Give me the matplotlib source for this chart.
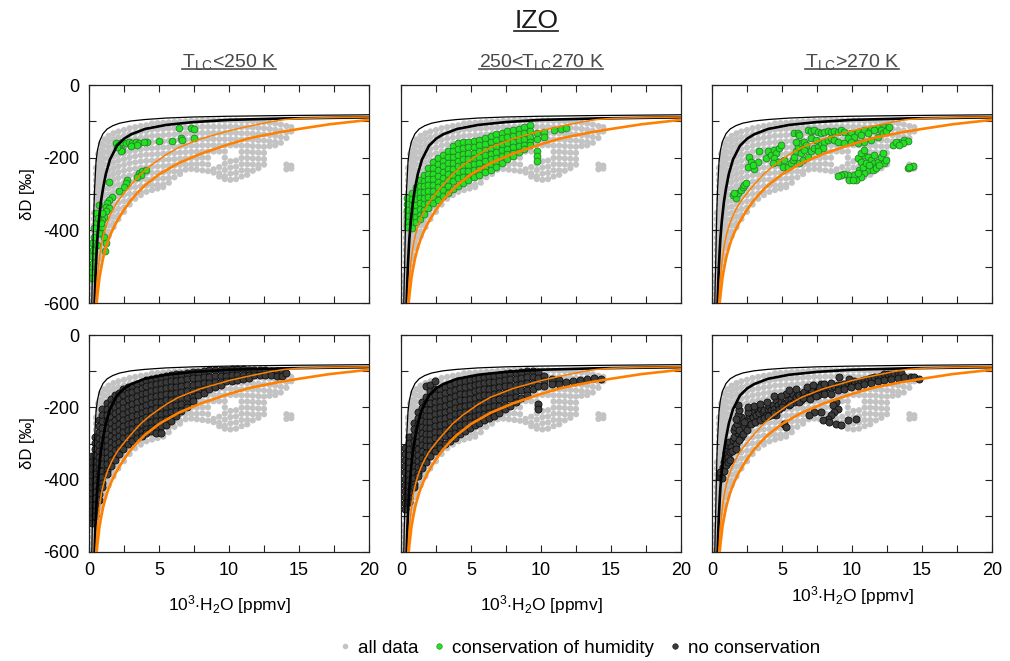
import numpy as np
import matplotlib
matplotlib.use("Agg")
import matplotlib.pyplot as plt
from matplotlib.lines import Line2D

plt.rcParams['font.family'] = ['Liberation Sans', 'DejaVu Sans']
plt.rcParams['mathtext.fontset'] = 'custom'
plt.rcParams['mathtext.rm'] = 'Liberation Sans'
plt.rcParams['mathtext.it'] = 'Liberation Sans:italic'
plt.rcParams['mathtext.bf'] = 'Liberation Sans:bold'

# model curves (x = 10^3 ppmv, y = dD permil)
thin_black_x = [0.2, 0.23, 0.26, 0.3, 0.35, 0.4, 0.5, 0.6, 0.75, 1.0, 1.3, 1.7, 2.2, 3, 4, 5.5, 7.5, 10, 14, 20]
thin_black_y = [-600, -540, -500, -420, -340, -285, -212, -180, -155, -134, -121, -112, -105, -99, -95, -91, -88, -86, -84, -82]
thick_black_x = [0.4, 0.43, 0.46, 0.5, 0.55, 0.6, 0.7, 0.85, 1.0, 1.2, 1.5, 2.0, 2.5, 3.0, 4.0, 5.5, 7.5, 10, 14, 20]
thick_black_y = [-600, -565, -530, -492, -455, -422, -375, -322, -285, -245, -205, -167, -148, -136, -121, -110, -102, -96, -92, -89]
orange_hi_x = [0.48, 0.52, 0.56, 0.62, 0.7, 0.8, 0.92, 1.05, 1.2, 1.4, 1.68, 2.0, 2.5, 3.0, 3.7, 4.4, 5.5,
               6.4, 8.0, 9.1, 10, 11, 12, 13, 14, 15, 17, 20]
orange_hi_y = [-600, -575, -550, -522, -492, -460, -432, -410, -390, -368, -345, -323, -298, -275, -245, -222,
               -192, -172, -148, -136, -126, -117, -109, -101, -95, -92, -90, -88]
orange_lo_x = [0.55, 0.6, 0.66, 0.75, 0.85, 1.0, 1.2, 1.4, 1.6, 1.9, 2.2, 2.6, 3.0, 3.5, 4.0, 5.0, 6.4, 8.0,
               10, 11.5, 13.6, 15, 17.2, 20]
orange_lo_y = [-600, -580, -560, -530, -508, -478, -448, -425, -406, -382, -362, -338, -317, -295, -276, -246,
               -215, -189, -163, -146, -130, -121, -108, -96]

# all data (grey cloud), given column by column
gray_cols = [0.25, 0.35, 0.5, 0.65, 0.85, 1.1, 1.4, 1.75, 2.1, 2.5, 2.9, 3.3, 3.7, 4.1, 4.5, 4.9, 5.3, 5.7,
             6.1, 6.5, 6.9, 7.3, 7.7, 8.1, 8.5, 8.9, 9.3, 9.7, 10.1, 10.5, 10.9, 11.3, 11.7, 12.1, 12.5,
             12.9, 13.3, 13.7, 14.1, 14.45]
gray_rows = [
    [-525, -542, -559, -576, -594],
    [-352, -369, -386, -403, -420, -437, -454, -471, -488, -505, -522, -539, -556, -573, -590],
    [-228, -245, -262, -279, -296, -313, -330, -347, -364, -381, -398, -415, -432, -449, -466, -483, -500, -517, -534, -551, -565],
    [-190, -207, -224, -241, -258, -275, -292, -309, -326, -343, -360, -377, -394, -411, -428, -445, -462, -479, -496, -513, -522],
    [-162, -179, -196, -213, -230, -247, -264, -281, -298, -315, -332, -349, -366, -383, -400, -417, -434, -451, -468, -480],
    [-150, -167, -184, -201, -218, -235, -252, -269, -286, -303, -320, -337, -354, -371, -388, -405, -422, -438, -448],
    [-140, -155, -171, -187, -203, -219, -235, -251, -267, -284, -301, -318, -335, -352, -369, -386, -403, -416],
    [-133, -149, -165, -181, -197, -213, -229, -245, -261, -278, -295, -312, -329, -346, -363, -380, -391],
    [-128, -144, -160, -176, -192, -208, -224, -240, -256, -273, -290, -307, -324, -341, -358, -369],
    [-124, -140, -156, -172, -188, -204, -220, -236, -252, -269, -286, -303, -320, -337, -349],
    [-119, -135, -151, -167, -183, -199, -215, -232, -249, -266, -283, -300, -317, -329],
    [-116, -132, -148, -164, -180, -196, -213, -230, -247, -264, -281, -298, -313],
    [-113, -129, -145, -161, -177, -193, -210, -227, -244, -261, -278, -295, -303],
    [-111, -127, -143, -159, -175, -192, -209, -226, -243, -260, -277, -294],
    [-106, -123, -140, -157, -174, -191, -208, -225, -242, -259, -276, -289],
    [-105, -122, -139, -156, -173, -190, -207, -224, -241, -258, -275, -285],
    [-104, -121, -138, -155, -172, -189, -206, -223, -240, -257, -274, -281],
    [-103, -120, -137, -154, -171, -188, -205, -222, -239, -256, -269],
    [-102, -119, -136, -153, -170, -187, -204, -221, -238, -254],
    [-101, -118, -135, -152, -169, -186, -203, -220, -237, -245],
    [-100, -117, -134, -151, -168, -185, -202, -219, -233],
    [-99, -116, -133, -150, -167, -184, -201, -218, -231],
    [-99, -116, -133, -150, -167, -184, -201, -218, -233],
    [-98, -115, -132, -149, -166, -183, -200, -217, -235],
    [-98, -115, -132, -149, -166, -183, -200, -219, -237],
    [-98, -115, -132, -149, -166, -183, -232, -241],
    [-98, -115, -132, -149, -166, -183, -226, -243, -252],
    [-98, -115, -132, -149, -166, -183, -200, -217, -234, -251, -259],
    [-98, -115, -132, -149, -166, -210, -227, -244, -261],
    [-98, -115, -132, -149, -166, -208, -225, -242, -259],
    [-99, -116, -133, -150, -167, -184, -201, -218, -235, -252],
    [-99, -116, -133, -150, -167, -184, -201, -218, -235, -247],
    [-100, -117, -134, -151, -168, -185, -202, -219, -236],
    [-101, -118, -135, -152, -169, -186, -203, -220, -229],
    [-102, -119, -136, -153, -170, -187, -204, -219],
    [-104, -121, -138, -155, -168],
    [-106, -123, -140, -157, -166],
    [-109, -126, -143, -159],
    [-113, -130, -146, -219, -232],
    [-116, -128, -222, -230],
]

# conservation of humidity, T_LC < 250 K
green1 = [(1.9, -160), (2.14, -165), (2.38, -156), (2.62, -160), (2.86, -156), (3.1, -160), (3.33, -156),
          (3.57, -160), (3.45, -165), (2.38, -179), (2.26, -183), (4.17, -158), (5.0, -154), (5.95, -153),
          (6.55, -147), (6.67, -151), (7.5, -147), (6.43, -119), (7.26, -119), (7.5, -122), (2.0, -172),
          (3.0, -168), (3.9, -158),
          (3.57, -243), (3.81, -238), (4.05, -234), (3.69, -248), (3.45, -252), (2.74, -261), (2.62, -270),
          (2.5, -280), (2.14, -293), (1.67, -307), (1.43, -266), (1.43, -316), (1.31, -326), (1.19, -335),
          (1.43, -339), (1.19, -348), (1.07, -362), (0.95, -371), (0.95, -390), (0.83, -408), (1.07, -417),
          (1.19, -435), (1.14, -458), (0.48, -353), (0.48, -380), (0.36, -394), (0.36, -417), (0.24, -435),
          (0.29, -454), (0.24, -472), (0.24, -500), (0.19, -514), (0.71, -408), (0.83, -380), (0.95, -353),
          (0.71, -330), (0.3, -490), (0.22, -530), (0.6, -440), (0.65, -365)]

# conservation of humidity, 250 < T_LC < 270 K (column by column)
green2_cols = [0.45, 0.75, 1.05, 1.35, 1.65, 1.95, 2.3, 2.65, 3.0, 3.35, 3.7, 4.05, 4.4, 4.8, 5.2, 5.6, 6.0,
               6.4, 6.8, 7.2, 7.6, 8.0, 8.4, 8.8, 9.2, 9.7, 10.2, 10.9, 11.4, 11.8]
green2_rows = [
    [-312, -328, -344, -360, -376, -392],
    [-298, -314, -330, -346, -362, -378, -394],
    [-282, -298, -314, -330, -346, -362, -378],
    [-262, -278, -294, -310, -326, -342, -358, -368],
    [-247, -263, -279, -295, -311, -327, -343, -354],
    [-228, -244, -260, -276, -292, -308, -324, -338],
    [-212, -228, -244, -260, -276, -292, -308, -326],
    [-202, -218, -234, -250, -266, -282, -298, -316],
    [-192, -208, -224, -240, -256, -272, -288, -306],
    [-182, -198, -214, -230, -246, -262, -278, -296],
    [-167, -183, -199, -215, -231, -247, -263, -286],
    [-160, -176, -192, -208, -224, -240, -256, -278],
    [-157, -173, -189, -205, -221, -237, -253, -270],
    [-156, -172, -188, -204, -220, -236, -252, -262],
    [-154, -170, -186, -202, -218, -234, -254],
    [-150, -166, -182, -198, -214, -230, -247],
    [-146, -162, -178, -194, -210, -226, -240],
    [-141, -157, -173, -189, -205, -221, -233],
    [-136, -152, -168, -184, -200, -216, -226],
    [-131, -147, -163, -179, -195, -214],
    [-127, -143, -159, -175, -191, -205],
    [-124, -140, -156, -172, -188, -196],
    [-120, -136, -152, -168, -184],
    [-116, -132, -148, -164, -175],
    [-111, -127, -143, -158, -166],
    [-132, -148, -182, -196, -210],
    [-128, -142],
    [-124],
    [-120],
    [-118],
]

# conservation of humidity, T_LC > 270 K
green3 = [(1.48, -302), (1.71, -312), (1.83, -298), (2.07, -289), (2.19, -280), (2.31, -275), (2.43, -270),
          (1.6, -298), (2.67, -197), (2.79, -211), (2.55, -225), (3.02, -232), (3.26, -211), (2.9, -220),
          (3.38, -183), (3.86, -202), (3.98, -183), (4.21, -193), (4.45, -179), (4.57, -188), (4.81, -174),
          (4.93, -165), (4.45, -202), (4.69, -211), (5.17, -206), (5.05, -225), (5.4, -226), (4.33, -215),
          (5.88, -133), (6.12, -131), (6.24, -138), (5.64, -215), (5.76, -206), (5.88, -197), (6.0, -183),
          (6.12, -170), (6.36, -160), (6.6, -156), (6.71, -165), (6.24, -215), (6.48, -206), (6.36, -188),
          (6.0, -156), (6.6, -179), (6.83, -124), (7.07, -126), (7.31, -124), (7.55, -128), (7.79, -133),
          (8.02, -128), (8.26, -126), (8.5, -128), (8.74, -126), (8.98, -128), (6.83, -197), (7.07, -183),
          (7.31, -174), (7.55, -170), (7.79, -160), (8.02, -156), (8.26, -151), (7.9, -174), (7.55, -183),
          (8.5, -147), (8.74, -151), (8.98, -156), (7.07, -147), (7.43, -151), (9.21, -124), (9.45, -128),
          (9.93, -133), (10.4, -128), (10.88, -124), (11.36, -122), (11.83, -119), (12.31, -115),
          (12.55, -119), (12.07, -124), (11.6, -124), (11.12, -131), (10.64, -138), (10.17, -142),
          (9.69, -147), (9.45, -160), (9.93, -156), (10.4, -160), (10.88, -156), (11.36, -151),
          (11.83, -142), (12.19, -133), (12.43, -126), (12.67, -115), (10.4, -202), (10.64, -211),
          (10.88, -193), (10.64, -188), (10.88, -179), (11.12, -197), (11.36, -206), (11.6, -215),
          (11.83, -211), (12.07, -197), (12.31, -215), (11.36, -225), (11.12, -234), (10.88, -243),
          (10.64, -252), (10.29, -261), (9.93, -257), (10.17, -248), (10.52, -234), (10.76, -225),
          (11.48, -234), (11.71, -229), (11.95, -220), (12.43, -206), (12.19, -188), (11.6, -193),
          (9.69, -248), (9.45, -245), (9.21, -249), (8.98, -250), (9.81, -261), (10.05, -261),
          (10.4, -243), (11.0, -215), (11.24, -220), (12.9, -165), (13.26, -160), (13.5, -156),
          (13.74, -151), (13.98, -154), (13.14, -156), (13.62, -160), (13.38, -165), (13.98, -229),
          (14.21, -225), (14.33, -223), (14.1, -226)]

# no conservation, T_LC < 250 K (column by column)
dark1_cols = [0.2, 0.45, 0.7, 0.95, 1.25, 1.55, 1.85, 2.15, 2.45, 2.75, 3.05, 3.4, 3.75, 4.1, 4.45, 4.8,
              5.15, 5.5, 5.85, 6.2, 6.6, 7.0, 7.4, 7.8, 8.2, 8.6, 9.0, 9.4, 9.8, 10.2, 10.6, 11.0, 11.4,
              11.8, 12.2, 12.6, 13.0, 13.4, 13.8, 14.1]
dark1_rows = [
    [-335, -352, -369, -386, -403, -420, -437, -454, -471, -488, -505, -520],
    [-282, -299, -316, -333, -350, -367, -384, -401, -418, -435, -452, -469, -486, -500],
    [-235, -252, -269, -286, -303, -320, -337, -354, -371, -388, -405, -422, -440, -455],
    [-205, -222, -239, -256, -273, -290, -307, -324, -341, -358, -375, -392, -410, -420],
    [-188, -205, -222, -239, -256, -273, -290, -307, -324, -341, -358, -375, -385],
    [-176, -193, -210, -227, -244, -261, -278, -295, -312, -329, -346, -362],
    [-166, -183, -200, -217, -234, -251, -268, -285, -302, -319, -336, -345],
    [-160, -177, -194, -211, -228, -245, -262, -279, -296, -313, -328],
    [-150, -167, -184, -201, -218, -235, -252, -269, -286, -303, -314],
    [-144, -161, -178, -195, -212, -229, -246, -263, -280, -300],
    [-140, -157, -174, -191, -208, -225, -242, -259, -276, -294],
    [-135, -152, -169, -186, -203, -220, -237, -254, -271, -285],
    [-130, -147, -164, -181, -198, -215, -232, -249, -266, -278],
    [-125, -142, -159, -176, -193, -210, -227, -244, -261, -270],
    [-121, -138, -155, -172, -189, -206, -223, -240, -257, -265],
    [-118, -135, -152, -169, -186, -203, -220, -237, -254, -270],
    [-116, -133, -150, -167, -184, -201, -218, -235, -252, -272],
    [-113, -130, -147, -164, -181, -198, -215, -232, -248],
    [-111, -128, -145, -162, -179, -196, -213, -230, -238],
    [-109, -126, -143, -160, -177, -194, -211, -225],
    [-107, -124, -141, -158, -175, -192, -210],
    [-105, -122, -139, -156, -173, -190, -200],
    [-103, -120, -137, -154, -171, -182],
    [-101, -118, -135, -152, -166],
    [-100, -117, -134, -150, -160],
    [-98, -115, -132, -150],
    [-97, -114, -131, -145],
    [-96, -113, -130, -138],
    [-96, -112, -128],
    [-95, -111, -126],
    [-95, -110, -124],
    [-95, -110, -121],
    [-96, -111, -118],
    [-96, -110],
    [-97, -110],
    [-98, -110],
    [-99, -110],
    [-100, -112],
    [-102, -112],
    [-105],
]

# no conservation, 250 < T_LC < 270 K (column by column)
dark2_cols = [0.3, 0.6, 0.9, 1.2, 1.5, 1.8, 2.1, 2.45, 2.8, 3.15, 3.5, 3.85, 4.2, 4.55, 4.9, 5.25, 5.6,
              5.95, 6.3, 6.65, 7.0, 7.4, 7.8, 8.2, 8.6, 9.0, 9.4, 9.8, 10.2, 10.8, 11.3, 11.8, 12.3, 12.8,
              13.3, 13.8, 14.3]
dark2_rows = [
    [-312, -329, -346, -363, -380, -397, -414, -431, -448, -465, -480],
    [-282, -299, -316, -333, -350, -367, -384, -401, -418, -435, -452, -462],
    [-242, -259, -276, -293, -310, -327, -344, -361, -378, -395, -412, -420],
    [-212, -229, -246, -263, -280, -297, -314, -331, -348, -365, -382, -390],
    [-186, -203, -220, -237, -254, -271, -288, -305, -322, -339, -356, -368],
    [-140, -172, -189, -206, -223, -240, -257, -274, -291, -308, -325, -342, -350],
    [-138, -155, -172, -189, -206, -223, -240, -257, -274, -291, -308, -325, -335],
    [-126, -150, -167, -184, -201, -218, -235, -252, -269, -286, -303, -320],
    [-148, -165, -182, -199, -216, -233, -250, -267, -284, -301, -312],
    [-144, -161, -178, -195, -212, -229, -246, -263, -280, -300],
    [-139, -156, -173, -190, -207, -224, -241, -258, -275, -292],
    [-134, -151, -168, -185, -202, -219, -236, -253, -270, -284],
    [-130, -147, -164, -181, -198, -215, -232, -249, -266, -275],
    [-128, -145, -162, -179, -196, -213, -230, -247, -265],
    [-125, -142, -159, -176, -193, -210, -227, -244, -257],
    [-122, -139, -156, -173, -190, -207, -224, -241, -250],
    [-119, -136, -153, -170, -187, -204, -221, -238, -244],
    [-116, -133, -150, -167, -184, -201, -218, -236],
    [-114, -131, -148, -165, -182, -199, -216, -230],
    [-112, -129, -146, -163, -180, -197, -214, -224],
    [-110, -127, -144, -161, -178, -195, -215],
    [-108, -125, -142, -159, -176, -193, -205],
    [-106, -123, -140, -157, -174, -195],
    [-104, -121, -138, -155, -172, -185],
    [-102, -119, -136, -153, -175],
    [-100, -117, -134, -151, -165],
    [-100, -117, -134, -150],
    [-103, -120, -140, -190, -205],
    [-112, -128, -140],
    [-122, -135],
    [-125, -135],
    [-130],
    [-128],
    [-125],
    [-123],
    [-120],
    [-122],
]

# no conservation, T_LC > 270 K
dark3 = [(0.6, -392), (0.69, -378), (0.76, -364), (0.83, -350), (0.93, -341), (1.0, -327), (1.12, -336),
         (1.07, -314), (1.17, -304), (1.24, -295), (1.36, -309), (1.48, -291), (1.6, -281), (1.71, -300),
         (1.83, -272), (1.31, -323), (1.55, -263), (1.64, -254), (1.79, -245), (1.95, -236), (2.07, -226),
         (1.83, -222), (1.71, -231), (2.19, -263), (2.31, -254), (2.07, -281), (1.95, -263), (2.43, -240),
         (2.55, -231), (2.67, -222), (2.79, -217), (2.9, -226), (3.02, -213), (3.14, -222), (3.26, -208),
         (3.38, -217), (3.5, -204), (3.62, -213), (3.74, -208), (3.86, -222), (3.98, -204), (4.1, -197),
         (4.21, -208), (4.33, -194), (4.45, -204), (4.57, -181), (4.69, -194), (4.93, -185), (5.17, -192),
         (5.29, -162), (5.4, -181), (5.52, -194), (5.64, -176), (5.76, -162), (5.88, -185), (6.0, -171),
         (6.12, -162), (6.24, -167), (6.36, -181), (6.48, -162), (6.6, -158), (6.71, -171), (6.83, -167),
         (7.07, -162), (7.31, -158), (7.55, -153), (7.79, -153), (8.02, -149), (8.26, -144), (8.5, -146),
         (8.74, -142), (8.98, -139), (9.21, -137), (9.45, -135), (9.69, -133), (9.93, -130), (10.17, -126),
         (10.4, -130), (10.64, -126), (10.88, -124), (11.12, -121), (11.36, -118), (11.6, -116),
         (11.83, -115), (12.07, -112), (12.31, -109), (12.55, -107), (12.79, -107), (13.02, -109),
         (13.26, -107), (13.5, -105), (14.21, -116), (14.45, -116), (14.81, -121), (9.1, -115),
         (9.81, -121), (7.79, -135), (7.67, -144), (8.02, -162), (8.5, -162), (8.86, -185), (8.62, -194),
         (8.98, -204), (8.74, -213), (8.5, -222), (8.26, -231), (7.9, -236), (7.79, -213), (7.31, -213),
         (6.95, -222), (8.38, -240), (8.86, -245), (9.21, -249), (9.69, -234), (10.29, -231), (5.17, -245),
         (5.29, -254), (4.57, -222), (4.21, -222), (2.55, -213), (1.95, -208), (1.83, -194), (7.07, -149),
         (7.55, -167), (8.02, -135), (8.5, -133), (8.98, -153), (9.45, -149), (9.93, -144), (10.4, -142),
         (10.88, -135), (11.36, -133), (11.83, -127), (12.31, -124), (12.79, -121), (13.26, -118),
         (13.74, -115),
         (0.55, -380), (0.7, -395), (0.85, -375), (1.0, -360), (1.15, -350), (1.3, -345), (1.45, -320),
         (1.7, -315), (1.9, -290), (2.2, -275), (2.5, -262), (2.8, -245), (3.1, -240), (3.4, -235),
         (3.7, -230), (4.0, -225), (4.4, -215), (4.8, -205), (5.0, -200), (5.6, -190), (6.2, -185),
         (6.5, -175), (7.0, -178), (7.4, -170), (2.3, -240), (2.6, -200), (3.0, -195), (3.4, -190),
         (3.9, -185), (4.4, -170), (4.9, -168), (5.5, -152), (6.0, -150), (6.8, -145), (7.2, -138)]

col_titles = [r'T$_{\rm LC}$<250 K', r'250<T$_{\rm LC}$270 K', r'T$_{\rm LC}$>270 K']
legend_labels = ['all data', 'conservation of humidity', 'no conservation']

GRAY = '#c3c3c3'
GREEN = '#22e022'
GREEN_EDGE = '#2b7d2b'
DARK = '#3b3b3b'
DARK_EDGE = '#0e0e0e'
ORANGE = '#ff8000'


def flatten(cols, rows):
    xs, ys = [], []
    for x, col in zip(cols, rows):
        xs += [x] * len(col)
        ys += col
    return xs, ys


def unzip(pairs):
    return [p[0] for p in pairs], [p[1] for p in pairs]


gray_x, gray_y = flatten(gray_cols, gray_rows)
green_sets = [unzip(green1), flatten(green2_cols, green2_rows), unzip(green3)]
dark_sets = [flatten(dark1_cols, dark1_rows), flatten(dark2_cols, dark2_rows), unzip(dark3)]

fig = plt.figure(figsize=(10.1, 6.61), dpi=100)
lefts = [89 / 1010, 401 / 1010, 712 / 1010]
width = 280 / 1010
bottoms = [(661 - 303) / 661, (661 - 552) / 661]
heights = [218 / 661, 217 / 661]

axes = []
for r in range(2):
    for c in range(3):
        ax = fig.add_axes([lefts[c], bottoms[r], width, heights[r]])
        axes.append(ax)
        ax.scatter(gray_x, gray_y, s=20, c=GRAY, edgecolors='none', zorder=1)
        if r == 0:
            gx, gy = green_sets[c]
            ax.scatter(gx, gy, s=24, c=GREEN, edgecolors=GREEN_EDGE, linewidths=0.6, zorder=2)
        else:
            dx, dy = dark_sets[c]
            ax.scatter(dx, dy, s=26, c=DARK, edgecolors=DARK_EDGE, linewidths=0.6, zorder=2)
        ax.plot(thin_black_x, thin_black_y, color='black', lw=0.9, zorder=3)
        ax.plot(thick_black_x, thick_black_y, color='black', lw=1.9, zorder=3)
        ax.plot(orange_hi_x, orange_hi_y, color=ORANGE, lw=1.1, zorder=3)
        ax.plot(orange_lo_x, orange_lo_y, color=ORANGE, lw=1.9, zorder=3)

        ax.set_xlim(0, 20)
        ax.set_ylim(-600, 0)
        ax.set_xticks(np.arange(0, 20.1, 2.5))
        ax.set_yticks(np.arange(-600, 1, 100))
        ax.tick_params(direction='in', top=True, right=True, length=5, width=0.8,
                       labelsize=13, pad=7, color='#222222')
        for sp in ax.spines.values():
            sp.set_linewidth(0.9)
            sp.set_color('#222222')
        if r == 1:
            ax.set_xticklabels(['0', '', '5', '', '10', '', '15', '', '20'])
            ax.set_xlabel(r'10$^{3}$$\cdot$H$_{2}$O [ppmv]', fontsize=12.5,
                          labelpad=10 if c < 2 else 4)
        else:
            ax.set_xticklabels([])
        if c == 0:
            ax.set_yticklabels(['-600', '', '-400', '', '-200', '', '0'])
            ax.set_ylabel('δD [‰]', fontsize=12, labelpad=6)
        else:
            ax.set_yticklabels([])

# titles
title_texts = []
t = fig.text(0.531, 0.957, 'IZO', ha='center', va='baseline', fontsize=19, color='#1a1a1a')
title_texts.append(t)
for c in range(3):
    t = fig.text(lefts[c] + width / 2, 0.898, col_titles[c], ha='center', va='baseline',
                 fontsize=14, color='#4a4a4a')
    title_texts.append(t)

# legend
handles = [Line2D([], [], marker='o', ls='none', ms=4, mfc=GRAY, mec='none'),
           Line2D([], [], marker='o', ls='none', ms=4, mfc=GREEN, mec=GREEN_EDGE, mew=0.4),
           Line2D([], [], marker='o', ls='none', ms=4, mfc=DARK, mec=DARK_EDGE, mew=0.4)]
fig.legend(handles, legend_labels, loc='center', bbox_to_anchor=(0.571, 0.019), ncol=3,
           frameon=False, fontsize=13.5, handletextpad=0.1, columnspacing=0.5, handlelength=1.2)

# underline the titles
fig.canvas.draw()
renderer = fig.canvas.get_renderer()
inv = fig.transFigure.inverted()
for t in title_texts:
    bb = t.get_window_extent(renderer)
    base = t.get_position()[1] * fig.bbox.height
    off = 3 if t.get_text() == 'IZO' else 2
    (x0, y0), (x1, _) = inv.transform([(bb.x0, base - off), (bb.x1, base - off)])
    fig.add_artist(Line2D([x0, x1], [y0, y0], color=t.get_color(), lw=1.2))

fig.savefig('out.png', dpi=100)
